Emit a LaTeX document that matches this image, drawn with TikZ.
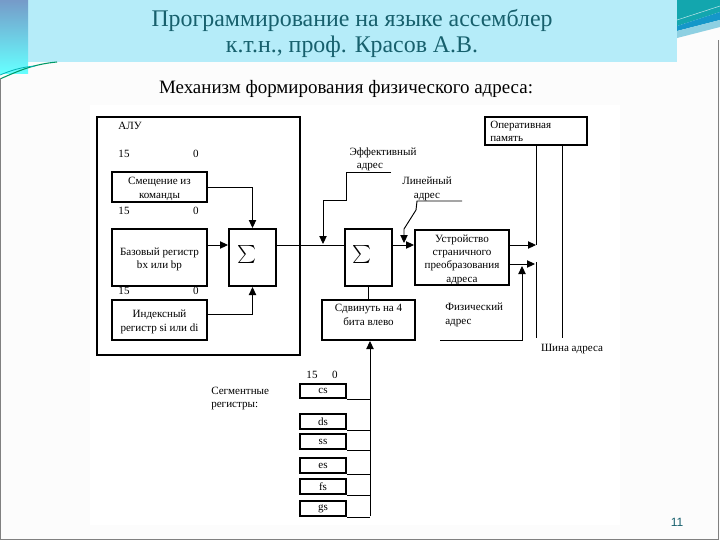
\documentclass[tikz,border=0pt]{standalone}
\usepackage{fontspec}
\usepackage{graphicx}
\setmainfont{Liberation Serif}
\newfontfamily\numfont{Liberation Sans}
\usetikzlibrary{arrows.meta,fit,calc}
\definecolor{hdr}{HTML}{B5ECF9}
\definecolor{ttl}{HTML}{17606D}
\definecolor{teal1}{HTML}{13A6AE}
\definecolor{blue1}{HTML}{1597C9}
\definecolor{lblue}{HTML}{8ED0E2}
\newcommand\dfont{\fontsize{8.3}{10}\selectfont}
\newcommand\bigsig{\scalebox{1.35}{$\sum$}}
\begin{document}
\begin{tikzpicture}[x=0.75pt,y=-0.75pt,
  box/.style={draw,line width=1.5pt,inner sep=0pt},
  bigbox/.style={draw,line width=1.5pt,inner sep=0pt},
  ln/.style={line width=0.7pt},
  arr/.style={line width=0.7pt,-{Triangle[length=6pt,width=5.5pt]}},
  lbl/.style={font=\dfont,inner sep=0pt,align=center},
  inlbl/.style={lbl,yshift=-1.5pt},
  sig/.style={inner sep=0pt}]
% background
\useasboundingbox (0,0) rectangle (720,540);
\fill[white!98!gray] (0,0) rectangle (720,540);
\fill[white] (90,105) rectangle (620,525);
\fill[hdr] (28,0) rectangle (677,62);
\shade[top color=lblue!80!blue!70!gray, bottom color=cyan!60!white] (0,0) rectangle (28,73);
\fill[teal1] (677,0) -- (720,0) -- (720,12) -- (677,26) -- cycle;
\fill[blue1] (677,26) -- (720,12) -- (720,20) -- (677,31) -- cycle;
\fill[lblue] (677,31) -- (720,20) -- (720,27) -- (677,38) -- cycle;
\draw[white!70!teal1,line width=0.4pt] (677,20) -- (720,6);
\draw[teal!80!green,line width=0.8pt] (0,79) .. controls (20,70) and (35,64) .. (57,62);
\draw[teal!60!cyan,line width=0.6pt] (0,75) .. controls (12,70) and (22,67) .. (35,66);
\draw[gray,line width=1pt] (0.5,78) -- (0.5,539.5) -- (718.5,539.5) -- (718.5,40);
% titles
\node[text=ttl,font=\fontsize{17.9}{20}\selectfont,align=center] (title) at (352,33.5) {Программирование на языке ассемблер\\к.т.н., проф. Красов А.В.};
\node[font=\fontsize{14.2}{16}\selectfont] (sub) at (346,89) {Механизм формирования физического адреса:};
% ALU
\node[bigbox,fit={(97,117)(300,355)}] (alu) {};
\node[lbl,anchor=west] (alul) at (118,126) {АЛУ};
\node[lbl] (n15a) at (124,154) {15};
\node[lbl] (n0a) at (196,154) {0};
\node[box,fit={(112,172)(207,202)}] (sm) {};
\node[inlbl] (sml) at (sm.center) {Смещение из\\команды};
\node[lbl] (n15b) at (124,211) {15};
\node[lbl] (n0b) at (196,211) {0};
\node[box,fit={(112,229)(207,286)}] (bas) {};
\node[inlbl] (basl) at (bas.center) {Базовый регистр\\bx или bp};
\node[lbl] (n15c) at (124,291) {15};
\node[lbl] (n0c) at (196,291) {0};
\node[box,fit={(112,300)(207,340)}] (ix) {};
\node[inlbl] (ixl) at (ix.center) {Индексный\\регистр si или di};
\node[box,fit={(229,229)(276,286)}] (s1) {};
\node[sig] (s1s) at (247,254) {\bigsig};
% second adder etc
\node[box,fit={(345,229)(392,286)}] (s2) {};
\node[sig] (s2s) at (362,254) {\bigsig};
\node[box,fit={(415,230)(509,285)}] (u) {};
\node[inlbl] (ul) at (u.center) {Устройство\\страничного\\преобразования\\адреса};
\node[box,fit={(322,300)(415,340)}] (sh) {};
\node[lbl] (shl) at (368.5,315) {Сдвинуть на 4\\бита влево};
\node[box,fit={(485,117)(587,145)}] (om) {};
\node[lbl,align=left,anchor=north west] (oml) at (490,121) {Оперативная\\память};
% labels
\node[lbl] (ef) at (383,153) {Эффективный};
\node[lbl] (ef2) at (370,167) {адрес};
\node[lbl] (lin) at (427,189) {Линейный\\адрес};
\node[lbl,align=left,anchor=north west] (fiz) at (445,303) {Физический\\адрес};
\node[lbl] (bus) at (572,349) {Шина адреса};
% segment registers
\node[lbl] (n15d) at (312,375) {15};
\node[lbl] (n0d) at (335,375) {0};
\node[lbl,align=left,anchor=north west] (seg) at (211,387) {Сегментные\\регистры:};
\foreach \r/\ya/\yb in {cs/384/398,ds/414/429,ss/434/449,es/458/473,fs/479/494,gs/501/516}{
  \node[box,fit={(300,\ya)(346,\yb)}] (\r) {};
  \node[lbl] (\r l) at (\r.center) {\r};
}
% connectors inside ALU
\draw[arr] (sm.east) -| (s1.north);
\draw[arr] ($(bas.east)+(0,-12.5)$) coordinate (b1) -- (b1 -| s1.west);
\draw[arr] ($(ix.east)+(0,-6)$) coordinate (i1) -| (s1.south);
\draw[ln] ($(s1.east)+(0,-12.5)$) coordinate (o1) -- (o1 -| s2.west);
% effective address leader
\coordinate (e0) at (391,172);
\draw[arr] (e0) -- (346,172) -- (346,200) -- (323,200) -- (323 ,244);
% linear address leader
\coordinate (l0) at (462,201);
\draw[arr] (l0) -- (417,201) -- (416,210) -- (404,229) -- (404,243);
% adder2 to paging unit
\draw[arr] ($(s2.east)+(0,-12.5)$) coordinate (o2) -- (o2 -| u.west);
\draw[ln] (s2.south) -- (sh.north);
% paging unit to bus
\coordinate (v1) at ($(om.south west)+(52,0)$);
\coordinate (v2) at ($(om.south west)+(78,0)$);
\draw[arr] ($(u.east)+(0,-12.5)$) coordinate (p1) -- (p1 -| v1);
\draw[arr] ($(u.east)+(0,6.5)$) coordinate (p2) -- ($(p2 -| v1)+(-1,0)$);
\draw[ln] (v1) -- (v1 |- p1);
\draw[ln] ($(v1 |- p2)+(0,-2)$) -- (v1 |- 0,338);
\draw[ln] (v2) -- (v2 |- 0,338);
\coordinate (f0) at (440,340);
\draw[arr] (f0) -- (522,340) -- ($(522,0 |- p2)+(0,2)$);
% segment bus
\coordinate (sb) at (370,516);
\draw[arr] (sb) -- (sb |- sh.south);
\foreach \r in {cs,ds,ss,es,fs,gs}{\draw[ln] (\r.south east) -- (\r.south east -| sb);}
% page number
\node[text=ttl,font=\numfont\fontsize{9}{10}\selectfont] (pg) at (677,522) {11};
\end{tikzpicture}
\end{document}
